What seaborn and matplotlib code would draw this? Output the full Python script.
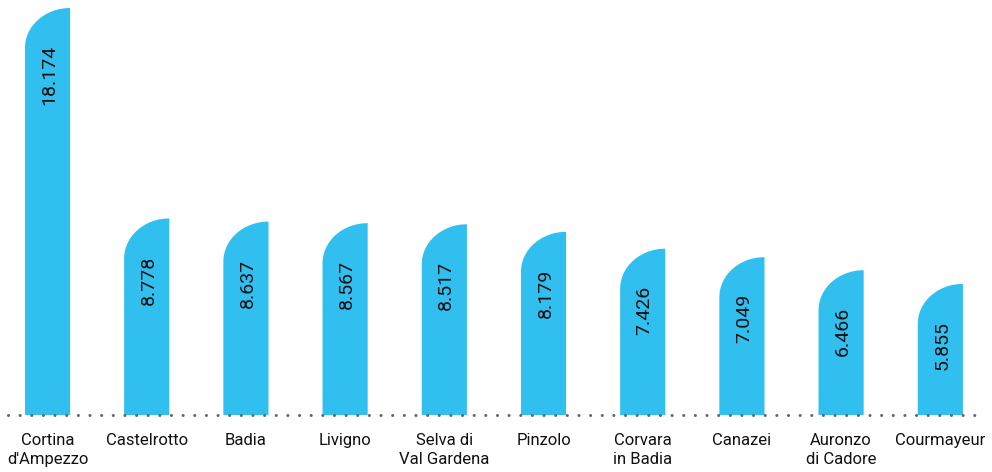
import numpy as np
import pandas as pd
import seaborn as sns
import matplotlib.pyplot as plt
from matplotlib.path import Path
from matplotlib.patches import PathPatch

# Ski resorts and their counts
resorts = ["Cortina\nd'Ampezzo", "Castelrotto", "Badia", "Livigno", "Selva di\nVal Gardena",
           "Pinzolo", "Corvara\nin Badia", "Canazei", "Auronzo\ndi Cadore", "Courmayeur"]
values = [18174, 8778, 8637, 8567, 8517, 8179, 7426, 7049, 6466, 5855]

BAR_COLOR = "#31BFF0"
FONT = ["Roboto", "DejaVu Sans"]

sns.set_theme(style="white")
plt.rcParams["font.family"] = FONT

W, H = 992, 472
fig = plt.figure(figsize=(W / 100, H / 100), dpi=100)
base_px = 415
ax = fig.add_axes([0, (H - base_px) / H, 1, base_px / H])

df = pd.DataFrame({"resort": resorts, "value": values})
sns.barplot(data=df, x="resort", y="value", color=BAR_COLOR, width=0.455,
            saturation=1, ax=ax)

ymax = 18174 * base_px / 407
ax.set_xlim(-0.479, 9.521)
ax.set_ylim(0, ymax)

# data units per pixel
ux = 10.0 / W
uy = ymax / base_px
ry = 40 * uy  # vertical radius of the rounded corner

k = 0.5523
for patch, v in zip(list(ax.patches), values):
    x0 = patch.get_x()
    w = patch.get_width()
    h = patch.get_height()
    x1 = x0 + w
    # rectangle with an elliptical top-left corner sweeping to the right edge
    verts = [
        (x0, 0), (x1, 0), (x1, h),
        (x1 - w * k, h), (x0, h - ry + ry * k), (x0, h - ry),
        (x0, 0), (x0, 0),
    ]
    codes = [Path.MOVETO, Path.LINETO, Path.LINETO,
             Path.CURVE4, Path.CURVE4, Path.CURVE4,
             Path.LINETO, Path.CLOSEPOLY]
    new = PathPatch(Path(verts, codes), facecolor=BAR_COLOR, edgecolor="none", zorder=2)
    patch.remove()
    ax.add_patch(new)
    label = f"{v:,}".replace(",", ".")
    ax.text(x0 + w / 2 + 2 * ux, h - 37 * uy, label, rotation=90, ha="center", va="top",
            fontsize=14, color="#111111", zorder=3)

# dotted baseline
ax.plot([8 * ux - 0.479, 976 * ux - 0.479], [0, 0], color="#666666", lw=2.2,
        linestyle=(0, (0.01, 3.8)), dash_capstyle="round", solid_capstyle="round",
        clip_on=False, zorder=4)

ax.set_xlabel("")
ax.set_ylabel("")
ax.set_yticks([])
ax.tick_params(axis="x", length=0, pad=13, labelsize=12, labelcolor="#111111")
for t in ax.get_xticklabels():
    t.set_linespacing(1.35)
for s in ax.spines.values():
    s.set_visible(False)

fig.savefig("out.png", dpi=100)
